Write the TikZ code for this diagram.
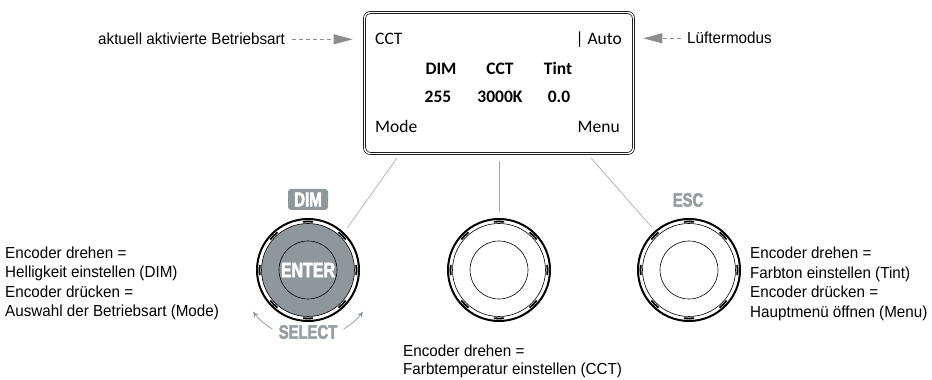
\documentclass[tikz,border=0pt]{standalone}
\usepackage{fontspec}
\setmainfont{Liberation Sans}[FakeStretch=0.95]
\newfontfamily\lcdfont{Carlito}
\newfontfamily\keyfont{Liberation Sans Bold}[FakeStretch=0.76, FakeBold=2.5]
\usetikzlibrary{positioning,arrows.meta}
\definecolor{keyGray}{RGB}{143,151,155}
\definecolor{capGray}{RGB}{150,158,162}
\definecolor{pointerGray}{RGB}{140,140,140}
\definecolor{linkGray}{RGB}{160,165,168}
\tikzstyle{info} = [anchor=base west, inner sep=0, font=\fontsize{16}{19}\selectfont]
\tikzstyle{lcdText} = [anchor=base, inner sep=0, font=\lcdfont\fontsize{17.5}{20}\selectfont]
\tikzstyle{lcdBold} = [lcdText, font=\lcdfont\bfseries\fontsize{17.5}{20}\selectfont]
\tikzstyle{pointer} = [color=pointerGray, line width=.8pt, dash pattern=on 4pt off 3pt, -{Triangle[length=19pt,width=10pt]}]
\tikzstyle{link} = [color=linkGray, line width=.6pt]
\tikzstyle{knobRim} = [circle, draw, line width=2pt, minimum size=102pt, inner sep=0, outer sep=0]
\tikzstyle{knobCap} = [circle, draw, line width=.6pt, minimum size=58pt, inner sep=0]
\tikzstyle{keyLabel} = [inner sep=0, text=capGray, font=\keyfont\fontsize{19.5}{20}\selectfont]
\tikzstyle{selArrow} = [color=capGray, line width=.8pt, -{Stealth[length=6pt,width=5pt]}]
\newcommand{\knobTicks}[1]{
  \draw [line width=.6pt] (#1.center) circle [radius=46.5];
  \foreach \a in {0,45,...,315} {
    \draw [line width=1.8pt] (#1.center) ++(\a-6:48.5) arc [start angle=\a-6, end angle=\a+6, radius=48.5];
  }
}

\begin{document}
\begin{tikzpicture}[x=1pt, y=1pt]
    \useasboundingbox (0,0) rectangle (932,380);
    % display
    \node [draw, double, double distance=1.4pt, line width=.7pt, rounded corners=6pt,
      minimum width=269pt, minimum height=141pt, inner sep=0] (disp) at (499,297) {};
    \node [lcdText, anchor=base west] (lcdMode) at (375,335) {CCT};
    \node [lcdText, anchor=base east] (lcdFan) at (622,335) {| Auto};
    \node [lcdBold] (hdDim) at (441,305) {DIM};
    \node [lcdBold] (hdCct) at (500,305) {CCT};
    \node [lcdBold] (hdTint) at (558,305) {Tint};
    \node [lcdBold] (valDim) at (438,277) {255};
    \node [lcdBold] (valCct) at (500,277) {3000K};
    \node [lcdBold] (valTint) at (559,277) {0.0};
    \node [lcdText, anchor=base west] (softL) at (375,247) {Mode};
    \node [lcdText, anchor=base east] (softR) at (620,247) {Menu};
    % pointers to the display
    \node [info] (lblMode) at (98,335) {aktuell aktivierte Betriebsart};
    \node [info] (lblFan) at (687,336) {Lüftermodus};
    \draw [pointer, shorten <=7pt, shorten >=11.5pt] (lblMode.east) -- (disp.west |- lblMode.east);
    \draw [pointer, shorten <=6pt, shorten >=9.5pt] (lblFan.west) -- (disp.east |- lblFan.west);
    % knobs
    \node [knobRim] (knobL) at (308,110) {};
    \fill [keyGray] (knobL.center) circle [radius=46.5];
    \knobTicks{knobL}
    \node [knobCap, text=white, font=\keyfont\fontsize{21}{21}\selectfont] (enterCap) at (knobL) {ENTER};
    \node [knobRim] (knobM) at (499,110) {};
    \knobTicks{knobM}
    \node [knobCap] (capM) at (knobM) {};
    \node [knobRim] (knobR) at (689,110) {};
    \knobTicks{knobR}
    \node [knobCap] (capR) at (knobR) {};
    \node [fill=keyGray, rounded corners=3pt, minimum width=40pt, minimum height=21pt, inner sep=0,
      text=white, font=\keyfont\fontsize{20}{20}\selectfont] (dimTag) at (308,180.5) {DIM};
    \node [keyLabel] (escTag) at (688,180) {ESC};
    \node [keyLabel] (selectTag) at (308,48) {SELECT};
    \draw [selArrow] (knobL.center) ++(239:69) arc [start angle=239, end angle=217, radius=69];
    \draw [selArrow] (knobL.center) ++(301:69) arc [start angle=301, end angle=323, radius=69];
    % links display - knobs
    \coordinate (dispL) at (397,222);
    \coordinate (dispM) at (499,219);
    \coordinate (dispR) at (591,222);
    \draw [link, shorten >=7pt] (dispL) -- (knobL.46);
    \draw [link, shorten >=7pt] (dispM) -- (knobM.north);
    \draw [link, shorten >=6pt] (dispR) -- (knobR.131);
    % encoder texts
    \node [info] (dimTurn) at (5,121) {Encoder drehen =};
    \node [info] (dimTurnDo) at (5,102) {Helligkeit einstellen (DIM)};
    \node [info] (dimPush) at (5,82) {Encoder drücken =};
    \node [info] (dimPushDo) at (5,63) {Auswahl der Betriebsart (Mode)};
    \node [info] (cctTurn) at (403,23) {Encoder drehen =};
    \node [info] (cctTurnDo) at (403,5) {Farbtemperatur einstellen (CCT)};
    \node [info] (tintTurn) at (750,121) {Encoder drehen =};
    \node [info] (tintTurnDo) at (750,101) {Farbton einstellen (Tint)};
    \node [info] (tintPush) at (750,82) {Encoder drücken =};
    \node [info] (tintPushDo) at (750,62) {Hauptmenü öffnen (Menu)};
\end{tikzpicture}
\end{document}
